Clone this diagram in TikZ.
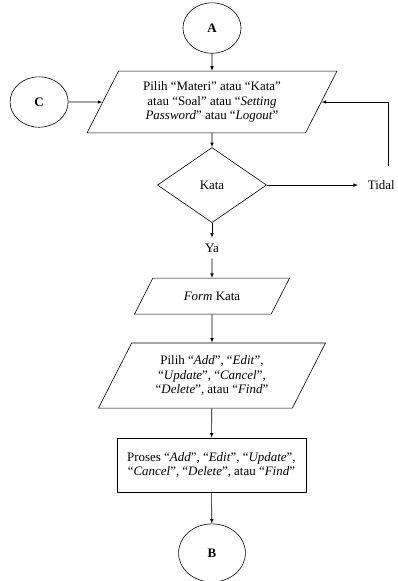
\documentclass[tikz,border=0pt]{standalone}
\usepackage{fontspec}
\setmainfont{Liberation Serif}
\usetikzlibrary{shapes.geometric}
\tikzset{every picture/.style={>=latex}}
\tikzset{
  conn/.style={ellipse, draw, minimum width=2.05cm, minimum height=1.78cm, inner sep=0pt, font=\fontsize{13}{14.5}\selectfont\bfseries},
  io/.style={trapezium, trapezium left angle=63, trapezium right angle=117, trapezium stretches body, draw, align=center, inner xsep=0pt},
  decide/.style={diamond, draw, aspect=1.45, inner sep=0pt},
  proc/.style={rectangle, draw, align=center, inner sep=0pt}
}

\begin{document}
\begin{tikzpicture}[line width=0.6pt, font=\fontsize{13}{14.5}\selectfont]
\useasboundingbox (0,0) rectangle (14.01,20.50);
\node[conn] (A) at (7.48,19.51) {A};
\node[io, minimum width=8.82cm, inner ysep=10.6bp] (pilih) at (7.48,16.90) {Pilih “Materi” atau “Kata”\\ atau “Soal” atau “\textit{Setting}\\ \textit{Password}” atau “\textit{Logout}”};
\node[conn] (C) at (1.38,16.90) {C};
\node[decide, minimum width=3.85cm, minimum height=2.65cm] (kata) at (7.48,13.97) {Kata};
\node[anchor=west, inner xsep=0.34cm, inner ysep=0pt] (tidak) at (12.63,13.97) {Tidal};
\coordinate (balik) at (13.69,14.64);
\node[inner sep=0.2cm] (ya) at (7.48,11.75) {Ya};
\node[io, minimum width=5.47cm, inner ysep=13.7bp] (form) at (7.48,10.05) {\textit{Form} Kata};
\node[io, minimum width=8.01cm, inner ysep=12.6bp] (pilih2) at (7.48,7.25) {Pilih “\textit{Add}”, “\textit{Edit}”,\\ “\textit{Update}”, “\textit{Cancel}”,\\ “\textit{Delete}”, atau “\textit{Find}”};
\node[proc, minimum width=6.67cm, minimum height=1.91cm] (proses) at (7.46,4.09) {Proses “\textit{Add}”, “\textit{Edit}”, “\textit{Update}”,\\ “\textit{Cancel}”, “\textit{Delete}”, atau “\textit{Find}”};
\node[conn, minimum width=2.36cm, minimum height=2.05cm] (B) at (7.48,0.99) {B};

\draw[->] (A) -- (pilih);
\draw[->] (C) -- (pilih.west);
\draw[->] (pilih) -- (kata);
\draw[->] (kata) -- (tidak);
\draw[->] (balik) |- (pilih.east);
\draw[->] (kata) -- (ya);
\draw[->] (ya) -- (form);
\draw[->] (form) -- (pilih2);
\draw[->] (pilih2) -- (proses);
\draw[->] (proses) -- (B);
\end{tikzpicture}
\end{document}
